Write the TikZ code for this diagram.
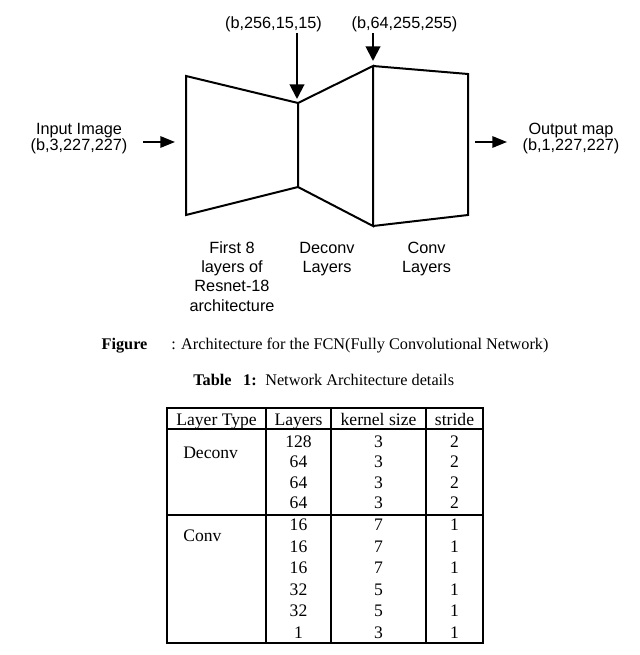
\documentclass[tikz,border=0pt]{standalone}
\usepackage{fontspec}
\setmainfont{Liberation Serif}
\newfontfamily\diagfont{Liberation Sans}
\usetikzlibrary{arrows.meta}

\tikzset{
  block/.style={line width=1.5pt, line join=miter},
  harrow/.style={line width=1.5pt, -{Triangle[length=11pt,width=8.5pt]}},
  varrow/.style={line width=1.5pt, -{Triangle[length=11pt,width=11pt]}},
  diag/.style={font=\diagfont\fontsize{12.2}{14.5}\selectfont, inner sep=0pt, align=center},
  io/.style={diag, font=\diagfont\fontsize{12.2}{11.3}\selectfont},
  capt/.style={font=\fontsize{12.2}{14.5}\selectfont, inner sep=0pt, anchor=base},
  captb/.style={capt, font=\bfseries\fontsize{12.2}{14.5}\selectfont},
  cell/.style={font=\fontsize{13.2}{15}\selectfont, inner sep=0pt, anchor=base},
  tblline/.style={line width=0.8pt},
}

\begin{document}
\begin{tikzpicture}[x=0.75pt, y=-0.75pt]
	\useasboundingbox (0,0) rectangle (639,655);
	
	% resnet, deconv and conv blocks
	\coordinate (enc-tl) at (186,76);
	\coordinate (enc-bl) at (186,215);
	\coordinate (enc-tr) at (298,103);
	\coordinate (enc-br) at (298,187);
	\coordinate (dec-tr) at (373,66);
	\coordinate (dec-br) at (373,226);
	\coordinate (conv-tr) at (468,74);
	\coordinate (conv-br) at (468,215);
	\draw[block] (enc-tl) -- (enc-tr) -- (enc-br) -- (enc-bl) -- cycle;
	\draw[block] (enc-tr) -- (dec-tr) -- (dec-br) -- (enc-br);
	\draw[block] (dec-tr) -- (conv-tr) -- (conv-br) -- (dec-br);
	
	% sizes on top
	\node[diag, anchor=base] (size256) at (273.5,29) {(b,256,15,15)};
	\node[diag, anchor=base] (size64) at (404.5,29) {(b,64,255,255)};
	\coordinate (a256-top) at (297,33);
	\coordinate (a256-tip) at (297,99);
	\coordinate (a64-top) at (373,33);
	\coordinate (a64-tip) at (373,61);
	\draw[varrow] (a256-top) -- (a256-tip);
	\draw[varrow] (a64-top) -- (a64-tip);
	
	% input / output
	\node[io] (input) at (79,138.5) {Input Image\\(b,3,227,227)};
	\node[io] (output) at (571,138.5) {Output map\\(b,1,227,227)};
	\coordinate (in-a) at (143,142);
	\coordinate (in-b) at (175,142);
	\coordinate (out-a) at (475,142);
	\coordinate (out-b) at (507,142);
	\draw[harrow] (in-a) -- (in-b);
	\draw[harrow] (out-a) -- (out-b);
	
	% block names
	\node[diag] (enc-lbl) at (232,276.5) {First 8\\layers of\\Resnet-18\\architecture};
	\node[diag] (dec-lbl) at (327,259) {Deconv\\Layers};
	\node[diag] (conv-lbl) at (426.5,259) {Conv\\Layers};
	
	% captions
	\node[captb] (fig-tag) at (124.5,349.5) {Figure};
	\node[capt, anchor=base west] (fig-text) at (171,349.5) {: Architecture for the FCN(Fully Convolutional Network)};
	\node[captb] (tab-tag) at (212.5,385.5) {Table};
	\node[captb] (tab-num) at (250,385.5) {1:};
	\node[capt, anchor=base west] (tab-text) at (265,385.5) {Network Architecture details};
	
	% table
	\draw[tblline] (167,408) rectangle (483,643);
	\draw[tblline] (167,429) -- (483,429);
	\draw[tblline] (167,515) -- (483,515);
	\foreach \x in {266,331,426}
		\draw[tblline] (\x,408) -- (\x,643);
	
	\node[cell] (h-type) at (216.5,425) {Layer Type};
	\node[cell] (h-layers) at (298.5,425) {Layers};
	\node[cell] (h-kernel) at (378.5,425) {kernel size};
	\node[cell] (h-stride) at (454.5,425) {stride};
	
	\node[cell, anchor=base west] (dec-type) at (183,458.3) {Deconv};
	\foreach \l/\k/\s [count=\i from 0] in {128/3/2, 64/3/2, 64/3/2, 64/3/2}{
		\node[cell] (dec-l\i) at (298.5,{447+20.5*\i}) {\l};
		\node[cell] (dec-k\i) at (378.5,{447+20.5*\i}) {\k};
		\node[cell] (dec-s\i) at (454.5,{447+20.5*\i}) {\s};
	}
	
	\node[cell, anchor=base west] (conv-type) at (183,541.5) {Conv};
	\foreach \l/\k/\s [count=\i from 0] in {16/7/1, 16/7/1, 16/7/1, 32/5/1, 32/5/1, 1/3/1}{
		\node[cell] (conv-l\i) at (298.5,{530.5+21.5*\i}) {\l};
		\node[cell] (conv-k\i) at (378.5,{530.5+21.5*\i}) {\k};
		\node[cell] (conv-s\i) at (454.5,{530.5+21.5*\i}) {\s};
	}
	
\end{tikzpicture}
\end{document}
